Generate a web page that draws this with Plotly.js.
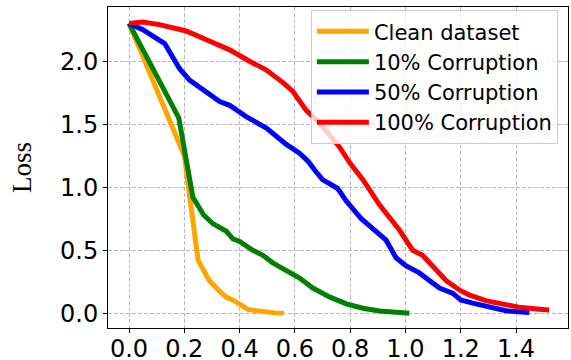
<!DOCTYPE html>
<html>
<head>
<meta charset="utf-8">
<script src="https://cdn.plot.ly/plotly-3.0.1.min.js"></script>
<style>html,body{margin:0;padding:0;background:#fff;}#chart{width:571px;height:360px;}</style>
</head>
<body>
<div id="chart"></div>
<script>
const seriesNames = ["Clean dataset", "10% Corruption", "50% Corruption", "100% Corruption"];
const seriesColors = ["orange", "green", "blue", "red"];

const cleanX = [0, 0.2, 0.25, 0.27, 0.29, 0.32, 0.35, 0.38, 0.41, 0.43, 0.46, 0.5, 0.53, 0.56];
const cleanY = [2.3, 1.25, 0.42, 0.33, 0.26, 0.19, 0.13, 0.1, 0.06, 0.03, 0.02, 0.008, 0.003, 0.0];

const c10X = [0, 0.18, 0.231, 0.25, 0.27, 0.304, 0.33, 0.352, 0.376, 0.40, 0.448, 0.484, 0.52, 0.569, 0.605, 0.617, 0.665, 0.725, 0.786, 0.846, 0.906, 0.954, 1.014];
const c10Y = [2.3, 1.55, 0.92, 0.85, 0.78, 0.71, 0.68, 0.65, 0.59, 0.57, 0.5, 0.46, 0.4, 0.34, 0.3, 0.28, 0.2, 0.13, 0.074, 0.04, 0.018, 0.006, 0.0];

const c50X = [0, 0.05, 0.129, 0.159, 0.183, 0.219, 0.267, 0.328, 0.364, 0.424, 0.497, 0.533, 0.569, 0.617, 0.65, 0.67, 0.70, 0.755, 0.786, 0.84, 0.882, 0.93, 0.966, 1.0, 1.05, 1.087, 1.123, 1.17, 1.2, 1.243, 1.29, 1.364, 1.448];
const c50Y = [2.3, 2.25, 2.14, 2.02, 1.94, 1.85, 1.77, 1.68, 1.65, 1.56, 1.47, 1.40, 1.34, 1.27, 1.2, 1.14, 1.06, 0.99, 0.89, 0.75, 0.67, 0.58, 0.44, 0.38, 0.32, 0.26, 0.2, 0.16, 0.105, 0.08, 0.053, 0.02, 0.005];

const c100X = [0, 0.05, 0.11, 0.207, 0.28, 0.364, 0.436, 0.497, 0.557, 0.593, 0.641, 0.689, 0.761, 0.80, 0.846, 0.906, 0.978, 1.026, 1.062, 1.11, 1.147, 1.195, 1.23, 1.29, 1.364, 1.41, 1.485, 1.52];
const c100Y = [2.3, 2.31, 2.29, 2.24, 2.17, 2.09, 2.0, 1.93, 1.83, 1.76, 1.61, 1.51, 1.32, 1.19, 1.06, 0.86, 0.66, 0.50, 0.46, 0.34, 0.26, 0.185, 0.145, 0.10, 0.066, 0.048, 0.032, 0.026];

const xs = [cleanX, c10X, c50X, c100X];
const ys = [cleanY, c10Y, c50Y, c100Y];

const xTickVals = [0, 0.2, 0.4, 0.6, 0.8, 1.0, 1.2, 1.4];
const xTickText = ["0.0", "0.2", "0.4", "0.6", "0.8", "1.0", "1.2", "1.4"];
const yTickVals = [0, 0.5, 1.0, 1.5, 2.0];
const yTickText = ["0.0", "0.5", "1.0", "1.5", "2.0"];

const traces = seriesNames.map((n, i) => ({
  x: xs[i], y: ys[i], name: n, type: "scatter", mode: "lines",
  line: {color: seriesColors[i], width: 5}
}));

const axisCommon = {
  showline: true, mirror: true, linecolor: "black", linewidth: 1,
  ticks: "outside", ticklen: 4, tickcolor: "black",
  showgrid: true, gridcolor: "#b8b8b8", griddash: "4px,2px", gridwidth: 1,
  zeroline: false,
  tickfont: {family: "DejaVu Sans", size: 24, color: "black"}
};

const layout = {
  width: 571, height: 360,
  margin: {l: 108, r: 3, t: 7, b: 32},
  paper_bgcolor: "white", plot_bgcolor: "white",
  showlegend: true,
  xaxis: Object.assign({}, axisCommon, {
    range: [-0.076, 1.588], tickvals: xTickVals, ticktext: xTickText,
    ticklabelstandoff: -5
  }),
  yaxis: Object.assign({}, axisCommon, {
    range: [-0.117, 2.43], tickvals: yTickVals, ticktext: yTickText,
    title: {text: "Loss", font: {family: "Liberation Serif", size: 27, color: "black"}, standoff: 20}
  }),
  legend: {
    x: 0.978, y: 0.99, xanchor: "right", yanchor: "top",
    bgcolor: "rgba(255,255,255,0.8)", bordercolor: "#cccccc", borderwidth: 1,
    font: {family: "DejaVu Sans", size: 21, color: "black"},
    itemwidth: 52, tracegroupgap: 0
  }
};

Plotly.newPlot("chart", traces, layout, {displayModeBar: false, staticPlot: true});
</script>
</body>
</html>
